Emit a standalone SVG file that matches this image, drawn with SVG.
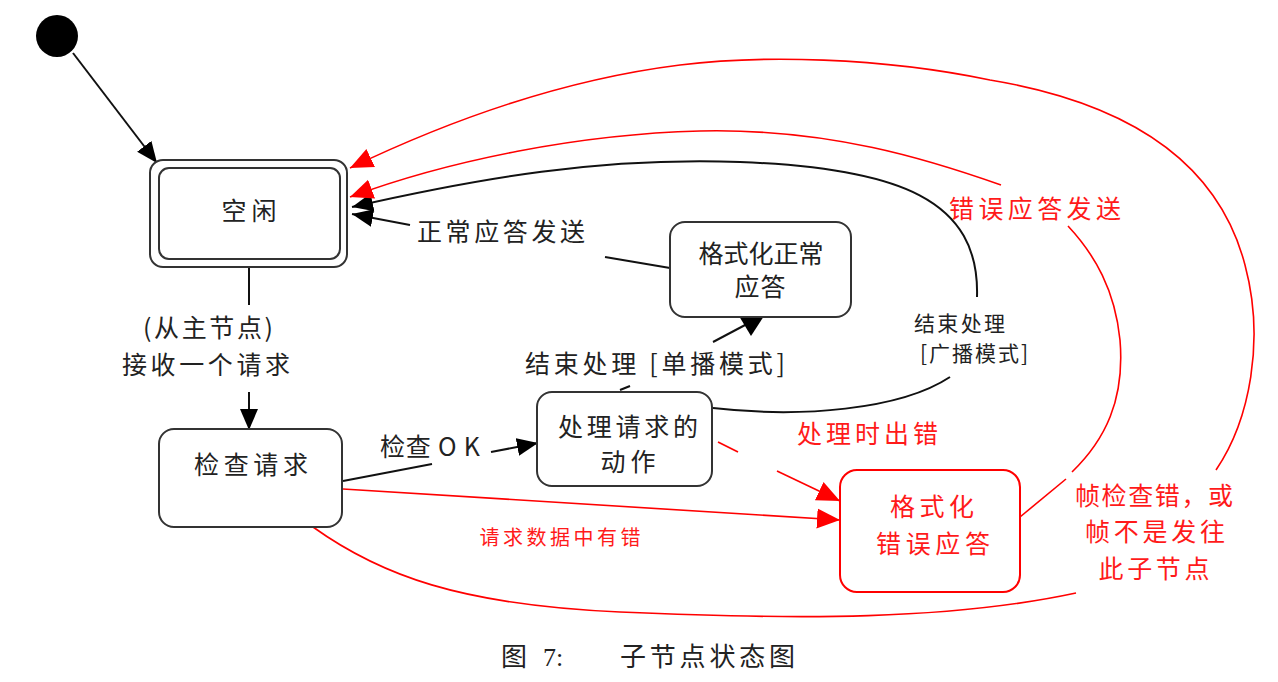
<svg xmlns="http://www.w3.org/2000/svg" width="1278" height="682" viewBox="0 0 1278 682">
<style>
  text { font-family: "Noto Sans CJK SC", "Noto Sans", sans-serif; font-size: 25px; fill: #222; }
  .red { fill: #ff1a1a; }
  .sm { font-size: 21px; }
  .xs { font-size: 20px; }
  .node { fill: #fff; stroke: #333; stroke-width: 2; }
  .rnode { fill: #fff; stroke: #ff0000; stroke-width: 2; }
  .bl { fill: none; stroke: #111; stroke-width: 2; }
  .rl { fill: none; stroke: #ff0000; stroke-width: 1.6; }
  .cap { font-family: "Liberation Serif", "Noto Sans CJK SC", serif; font-size: 26px; }
</style>
<defs>
  <marker id="ab" markerUnits="userSpaceOnUse" markerWidth="22" markerHeight="20" refX="21" refY="10" orient="auto">
    <path d="M0,1 L21,10 L0,19 z" fill="#000"/>
  </marker>
  <marker id="ar" markerUnits="userSpaceOnUse" markerWidth="24" markerHeight="22" refX="23" refY="11" orient="auto">
    <path d="M0,1 L23,11 L0,21 z" fill="#ff0000"/>
  </marker>
</defs>

<g id="initial">
  <circle cx="57" cy="36" r="21" fill="#000"/>
</g>

<g id="connectors">
  <!-- initial -> idle -->
  <line class="bl" x1="73" y1="53" x2="157" y2="163" marker-end="url(#ab)"/>
  <!-- idle -> check request -->
  <line class="bl" x1="249" y1="259" x2="249" y2="305"/>
  <line class="bl" x1="249" y1="392" x2="249" y2="430" marker-end="url(#ab)"/>
  <!-- check OK -->
  <line class="bl" x1="343" y1="481" x2="432" y2="464"/>
  <line class="bl" x1="491" y1="452" x2="538" y2="443" marker-end="url(#ab)"/>
  <!-- unicast -->
  <line class="bl" x1="620" y1="390" x2="630" y2="386"/>
  <line class="bl" x1="713" y1="342" x2="747" y2="324"/>
  <polygon points="739,316 764,316 751,336" fill="#000"/>
  <!-- normal reply sent -->
  <line class="bl" x1="670" y1="268" x2="605" y2="257"/>
  <line class="bl" x1="410" y1="225" x2="352" y2="214" marker-end="url(#ab)"/>
  <!-- broadcast -->
  <path class="bl" d="M713,408 C800,418 900,410 950,377"/>
  <path class="bl" d="M977,297 C980,200 900,168 740,162 C600,157 480,178 352,207" marker-end="url(#ab)"/>
  <!-- processing error -->
  <line class="rl" x1="718" y1="442" x2="738" y2="452"/>
  <line class="rl" x1="777" y1="471" x2="840" y2="501" marker-end="url(#ar)"/>
  <!-- request data error -->
  <line class="rl" x1="343" y1="489" x2="840" y2="520" marker-end="url(#ar)"/>
  <!-- error reply sent -->
  <line class="rl" x1="1020" y1="517" x2="1066" y2="479"/>
  <path class="rl" d="M1072,472 C1105,440 1125,400 1120,340 C1115,290 1095,255 1068,226"/>
  <path class="rl" d="M1001,185 C930,160 830,128 700,131 C580,134 450,160 350,197" marker-end="url(#ar)"/>
  <!-- frame error -->
  <path class="rl" d="M313,527 C380,575 460,605 620,612 C800,620 950,620 1076,593"/>
  <path class="rl" d="M1216,470 C1250,420 1265,340 1245,265 C1215,150 1110,100 990,80 C880,57 760,55 680,65 C560,80 450,120 350,168" marker-end="url(#ar)"/>
</g>

<g id="idle">
  <rect class="node" x="150" y="160" width="197" height="107" rx="13"/>
  <rect class="node" x="159" y="168" width="181" height="91" rx="10"/>
  <text x="249" y="220" text-anchor="middle" textLength="55">空闲</text>
</g>

<g id="check-request">
  <rect class="node" x="159" y="429" width="183" height="98" rx="15"/>
  <text x="251" y="474" text-anchor="middle" textLength="114">检查请求</text>
</g>

<g id="process-request">
  <rect class="node" x="537" y="392" width="175" height="94" rx="15"/>
  <text x="628" y="436" text-anchor="middle" textLength="140">处理请求的</text>
  <text x="628" y="471" text-anchor="middle" textLength="55">动作</text>
</g>

<g id="format-normal">
  <rect class="node" x="670" y="222" width="181" height="95" rx="15"/>
  <text x="761" y="263" text-anchor="middle" textLength="125">格式化正常</text>
  <text x="760" y="296" text-anchor="middle" textLength="51">应答</text>
</g>

<g id="format-error">
  <rect class="rnode" x="840" y="470" width="180" height="122" rx="17"/>
  <text class="red" x="932" y="516" text-anchor="middle" textLength="84">格式化</text>
  <text class="red" x="933" y="553" text-anchor="middle" textLength="114">错误应答</text>
</g>

<g id="labels">
  <text x="208" y="337" text-anchor="middle" textLength="130">(从主节点)</text>
  <text x="206" y="374" text-anchor="middle" textLength="168">接收一个请求</text>
  <text x="380" y="456" textLength="100">检查 O K</text>
  <text x="525" y="373" textLength="260">结束处理 [单播模式]</text>
  <text x="417" y="241" textLength="168">正常应答发送</text>
  <text class="sm" x="914" y="331" textLength="91">结束处理</text>
  <text class="sm" x="920" y="361" textLength="108">[广播模式]</text>
  <text class="red" x="949" y="218" textLength="172">错误应答发送</text>
  <text class="red" x="797" y="443" textLength="141">处理时出错</text>
  <text class="red xs" x="560" y="545" text-anchor="middle" textLength="161">请求数据中有错</text>
  <text class="red" x="1154" y="505" text-anchor="middle" textLength="158">帧检查错，或</text>
  <text class="red" x="1155" y="541" text-anchor="middle" textLength="140">帧不是发往</text>
  <text class="red" x="1154" y="578" text-anchor="middle" textLength="111">此子节点</text>
  <text class="cap" y="666"><tspan x="501">图</tspan><tspan x="543">7:</tspan><tspan x="620" textLength="175">子节点状态图</tspan></text>
</g>
</svg>
